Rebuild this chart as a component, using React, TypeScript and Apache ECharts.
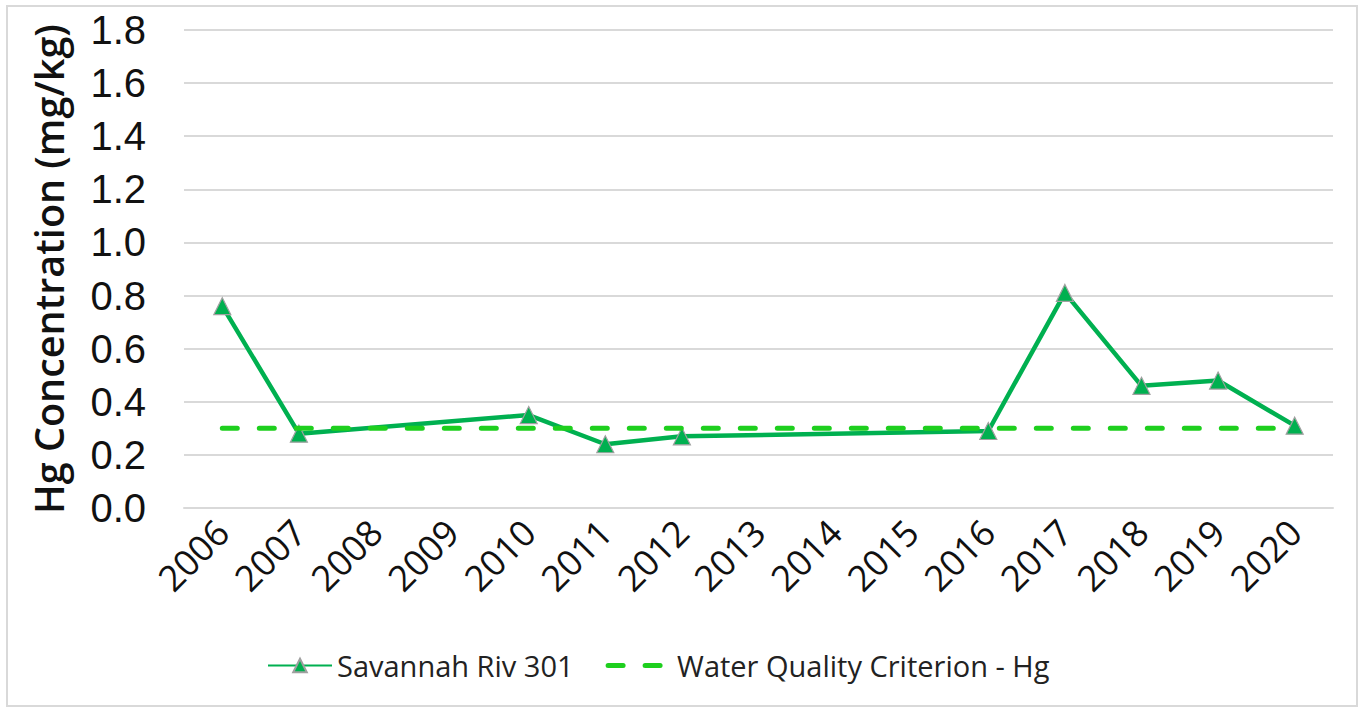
import React, { useEffect, useRef } from "react";
import * as echarts from "echarts";

const years = ["2006","2007","2008","2009","2010","2011","2012","2013","2014","2015","2016","2017","2018","2019","2020"];
const savannahValues: (number | null)[] = [0.76, 0.28, null, null, 0.35, 0.24, 0.27, null, null, null, 0.29, 0.81, 0.46, 0.48, 0.31];
const criterionValues: number[] = [0.3, 0.3, 0.3, 0.3, 0.3, 0.3, 0.3, 0.3, 0.3, 0.3, 0.3, 0.3, 0.3, 0.3, 0.3];
const seriesNames = ["Savannah Riv 301", "Water Quality Criterion - Hg"];
const yAxisTitle = "Hg Concentration (mg/kg)";

export default function App() {
  const ref = useRef<HTMLDivElement>(null);
  useEffect(() => {
    document.body.style.margin = "0";
    const chart = echarts.init(ref.current!, null, { renderer: "svg" });
    chart.setOption({
      animation: false,
      backgroundColor: "#ffffff",
      graphic: [
        {
          type: "rect",
          shape: { x: 7, y: 6, width: 1350, height: 700 },
          style: { fill: "none", stroke: "#d9d9d9", lineWidth: 2 },
          silent: true,
        },
      ],
      grid: { left: 184, right: 33, top: 30, bottom: 206 },
      legend: {
        left: 262,
        top: 646,
        itemWidth: 64,
        itemHeight: 17,
        itemGap: 32,
        textStyle: { fontFamily: "Open Sans", fontSize: 29, color: "#222" },
        data: [
          seriesNames[0],
          { name: seriesNames[1], itemStyle: { opacity: 0 }, lineStyle: { width: 5 } },
        ],
      },
      xAxis: {
        type: "category",
        data: years,
        boundaryGap: true,
        axisLine: { show: true, lineStyle: { color: "#d9d9d9", width: 2 } },
        axisTick: { show: false },
        axisLabel: {
          rotate: 45,
          margin: 18,
          fontFamily: "Open Sans",
          fontSize: 36,
          color: "#111",
        },
      },
      yAxis: {
        type: "value",
        min: 0,
        max: 1.8,
        interval: 0.2,
        name: yAxisTitle,
        nameLocation: "middle",
        nameGap: 115,
        nameRotate: 90,
        nameTextStyle: { fontFamily: "Open Sans", fontSize: 39.5, fontWeight: 600, color: "#111" },
        axisLine: { show: false },
        axisTick: { show: false },
        splitLine: { lineStyle: { color: "#d9d9d9", width: 2 } },
        axisLabel: {
          margin: 38,
          fontFamily: "Liberation Sans",
          fontSize: 40,
          color: "#111",
          formatter: (v: number) => v.toFixed(1),
        },
      },
      series: [
        {
          name: seriesNames[0],
          type: "line",
          data: savannahValues,
          connectNulls: true,
          symbol: "triangle",
          symbolSize: 17,
          lineStyle: { color: "#00B050", width: 4.5 },
          itemStyle: { color: "#00B050", borderColor: "#a0a0a0", borderWidth: 1.2 },
          z: 3,
        },
        {
          name: seriesNames[1],
          type: "line",
          data: criterionValues,
          symbol: "none",
          lineStyle: { color: "#1ECF1E", width: 5, type: [15, 22], cap: "round" },
          itemStyle: { color: "#1ECF1E" },
          z: 4,
        },
      ],
    });
    return () => chart.dispose();
  }, []);
  return <div ref={ref} style={{ width: 1366, height: 714 }} />;
}
